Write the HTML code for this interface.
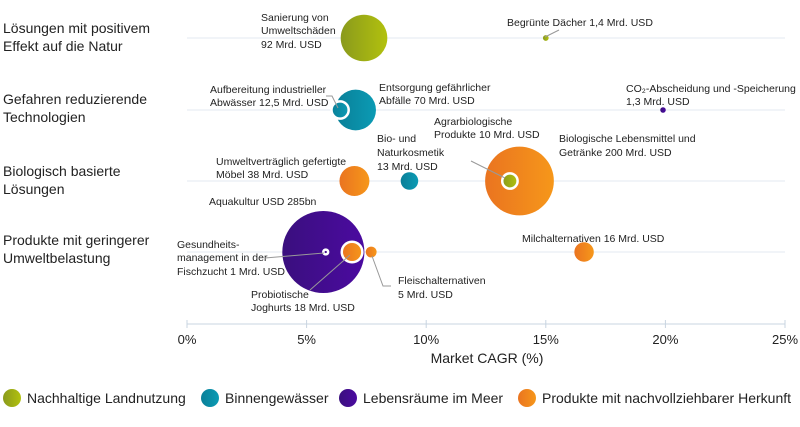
<!DOCTYPE html>
<html><head><meta charset="utf-8">
<style>
body{margin:0;background:#fff;font-family:"Liberation Sans",sans-serif;}
svg text{font-family:"Liberation Sans",sans-serif;fill:#222;}
</style></head>
<body>
<svg width="800" height="422" viewBox="0 0 800 422">
<defs>
<linearGradient id="gG" x1="0" x2="1"><stop offset="0" stop-color="#8a9a1c"/><stop offset="1" stop-color="#b2c10e"/></linearGradient>
<linearGradient id="gT" x1="0" x2="1"><stop offset="0" stop-color="#0a7f98"/><stop offset="1" stop-color="#0b9bb4"/></linearGradient>
<linearGradient id="gP" x1="0" x2="1"><stop offset="0" stop-color="#3a0f7e"/><stop offset="1" stop-color="#4b0aa0"/></linearGradient>
<linearGradient id="gO" x1="0" x2="1"><stop offset="0" stop-color="#ea7420"/><stop offset="1" stop-color="#f6971a"/></linearGradient>
</defs>
<g id="grid"></g>
<g id="marks"></g>
<g id="labels" font-size="10.5">
<text x="261" y="21">Sanierung von</text><text x="261" y="34">Umweltschäden</text><text x="261" y="48">92 Mrd. USD</text>
<text x="507" y="26">Begrünte Dächer 1,4 Mrd. USD</text>
<line x1="545" y1="37" x2="559" y2="30" stroke="#999"/>
<text x="210" y="93">Aufbereitung industrieller</text><text x="210" y="106">Abwässer 12,5 Mrd. USD</text>
<path d="M326,96 L332,96 L338,108" fill="none" stroke="#999"/>
<text x="379" y="91">Entsorgung gefährlicher</text><text x="379" y="104">Abfälle 70 Mrd. USD</text>
<text x="626" y="92">CO₂-Abscheidung und -Speicherung</text><text x="626" y="105">1,3 Mrd. USD</text>
<text x="434" y="125">Agrarbiologische</text><text x="434" y="138">Produkte 10 Mrd. USD</text>
<line x1="471" y1="161" x2="505" y2="178" stroke="#999"/>
<text x="377" y="142">Bio- und</text><text x="377" y="156">Naturkosmetik</text><text x="377" y="170">13 Mrd. USD</text>
<text x="559" y="142">Biologische Lebensmittel und</text><text x="559" y="156">Getränke 200 Mrd. USD</text>
<text x="216" y="165">Umweltverträglich gefertigte</text><text x="216" y="178">Möbel 38 Mrd. USD</text>
<text x="209" y="205">Aquakultur USD 285bn</text>
<text x="177" y="248">Gesundheits-</text><text x="177" y="261">management in der</text><text x="177" y="275">Fischzucht 1 Mrd. USD</text>
<line x1="265" y1="258" x2="324" y2="253" stroke="#999"/>
<text x="251" y="298">Probiotische</text><text x="251" y="311">Joghurts 18 Mrd. USD</text>
<line x1="310" y1="290" x2="350" y2="255" stroke="#999"/>
<text x="398" y="284">Fleischalternativen</text><text x="398" y="298">5 Mrd. USD</text>
<path d="M372,256 L383,286 L391,286" fill="none" stroke="#999"/>
<text x="522" y="242">Milchalternativen 16 Mrd. USD</text>
</g>
<g font-size="14">
<text x="3" y="33">Lösungen mit positivem</text><text x="3" y="51">Effekt auf die Natur</text>
<text x="3" y="104">Gefahren reduzierende</text><text x="3" y="122">Technologien</text>
<text x="3" y="176">Biologisch basierte</text><text x="3" y="194">Lösungen</text>
<text x="3" y="245">Produkte mit geringerer</text><text x="3" y="263">Umweltbelastung</text>
</g>
<line x1="187" y1="324" x2="785" y2="324" stroke="#c8d4e0"/>
<g id="ticks" font-size="13"></g>
<text x="487" y="363" font-size="14" text-anchor="middle">Market CAGR (%)</text>
<g font-size="14">
<g><circle cx="12" cy="398" r="9" fill="url(#gG)"/><text x="27" y="403">Nachhaltige Landnutzung</text></g>
<g><circle cx="210" cy="398" r="9" fill="url(#gT)"/><text x="225" y="403">Binnengewässer</text></g>
<g><circle cx="348" cy="398" r="9" fill="url(#gP)"/><text x="363" y="403">Lebensräume im Meer</text></g>
<g><circle cx="527" cy="398" r="9" fill="url(#gO)"/><text x="542" y="403">Produkte mit nachvollziehbarer Herkunft</text></g>
</g>
</svg>
<script>
const names=["sanierung","begruente-daecher","entsorgung","aufbereitung","co2","moebel","kosmetik","bio-lebensmittel","agrarbio","aquakultur","probiotik","gesundheitsmanagement","fleischalternativen","milchalternativen"];
const cagr=[7.4,15.0,7.05,6.4,19.9,7.0,9.3,13.9,13.5,5.7,6.9,5.8,7.7,16.6];
const sizes=[92,1.4,70,12.5,1.3,38,13,200,10,285,18,1,5,16];
const rows=[0,0,1,1,1,2,2,2,2,3,3,3,3,3];
const groups=["G","G","T","T","P","O","T","O","G","P","O","P","O","O"];
const outlined=[0,0,0,1,0,0,0,0,1,0,1,1,0,0];
const tickVals=[0,5,10,15,20,25];
const tickLabels=["0%","5%","10%","15%","20%","25%"];
const rowY=[38,110,181,252];
const x=v=>187+v*(785-187)/25;
const r=s=>2.43*Math.sqrt(s);
const NS="http://www.w3.org/2000/svg";
const grid=document.getElementById('grid');
rowY.forEach((y,i)=>{const l=document.createElementNS(NS,'line');
l.setAttribute('x1',187);l.setAttribute('x2',785);l.setAttribute('y1',y);l.setAttribute('y2',y);l.setAttribute('stroke','#e3eaf1');


grid.appendChild(l);});
const tk=document.getElementById('ticks');
tickVals.forEach((v,i)=>{const l=document.createElementNS(NS,'line');
l.setAttribute('x1',x(v));l.setAttribute('x2',x(v));l.setAttribute('y1',320);l.setAttribute('y2',328);l.setAttribute('stroke','#c8d4e0');


tk.appendChild(l);
const t=document.createElementNS(NS,'text');t.setAttribute('x',x(v));t.setAttribute('y',344);t.setAttribute('text-anchor','middle');t.textContent=tickLabels[i];


tk.appendChild(t);});
const m=document.getElementById('marks');
const order=sizes.map((s,i)=>i).sort((a,b)=>sizes[b]-sizes[a]);
order.forEach(i=>{const c=document.createElementNS(NS,'circle');
c.setAttribute('cx',x(cagr[i]));c.setAttribute('cy',rowY[rows[i]]);c.setAttribute('r',r(sizes[i]));
c.setAttribute('fill','url(#g'+groups[i]+')');
if(outlined[i]){c.setAttribute('stroke','#fff');c.setAttribute('stroke-width',2.5);}


m.appendChild(c);});
</script>
</body></html>
